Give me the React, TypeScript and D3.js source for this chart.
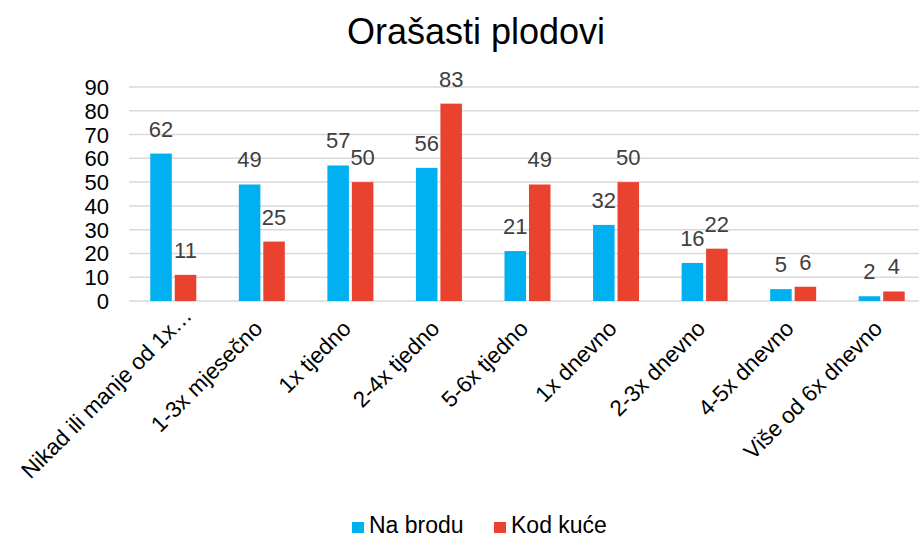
import React from "react";
import { scaleBand, scaleLinear, range } from "d3";

const categories = [
  "Nikad ili manje od 1x…",
  "1-3x mjesečno",
  "1x tjedno",
  "2-4x tjedno",
  "5-6x tjedno",
  "1x dnevno",
  "2-3x dnevno",
  "4-5x dnevno",
  "Više od 6x dnevno",
];
const naBrodu = [62, 49, 57, 56, 21, 32, 16, 5, 2];
const kodKuce = [11, 25, 50, 83, 49, 50, 22, 6, 4];
const seriesNames = ["Na brodu", "Kod kuće"];
const colors = ["#00B0F0", "#E9422F"];
const yTicks = range(0, 100, 10);

const W = 919;
const H = 540;
const font = "'Liberation Sans', Arial, sans-serif";

export default function App() {
  // plot area
  const left = 129;
  const right = 926;
  const top = 87;
  const bottom = 301;

  const x = scaleBand<string>().domain(categories).range([left, right]);
  const inner = scaleBand<number>()
    .domain([0, 1])
    .range([0, 46])
    .paddingInner(0.12);
  const y = scaleLinear().domain([0, 90]).range([bottom, top]);

  const series = [naBrodu, kodKuce];

  return (
    <svg
      width={W}
      height={H}
      viewBox={`0 0 ${W} ${H}`}
      style={{ position: "fixed", top: 0, left: 0, display: "block", overflow: "hidden" }}
      fontFamily={font}
    >
      <rect width={W} height={H} fill="#fff" />
      <text x={476} y={44} textAnchor="middle" fontSize={36} fill="#000">
        Orašasti plodovi
      </text>

      {/* grid lines and y ticks */}
      {yTicks.map((t) => (
        <g key={t}>
          <line x1={left} x2={W} y1={y(t)} y2={y(t)} stroke="#D9D9D9" strokeWidth={1.5} />
          <text x={109} y={y(t) + 8} textAnchor="end" fontSize={22} fill="#000">
            {t}
          </text>
        </g>
      ))}

      {/* bars */}
      {categories.map((c, i) => {
        const gx = x(c)! + (x.bandwidth() - 46) / 2;
        return (
          <g key={c}>
            {series.map((s, j) => {
              const bx = gx + inner(j)!;
              const v = s[i];
              return (
                <g key={j}>
                  <rect
                    x={bx}
                    y={y(v)}
                    width={inner.bandwidth()}
                    height={bottom - y(v)}
                    fill={colors[j]}
                  />
                  <text
                    x={bx + inner.bandwidth() / 2}
                    y={y(v) - 17}
                    textAnchor="middle"
                    fontSize={22}
                    fill="#404040"
                  >
                    {v}
                  </text>
                </g>
              );
            })}
          </g>
        );
      })}

      {/* category labels */}
      {categories.map((c, i) => {
        const cx = x(c)! + x.bandwidth() / 2 + (i === 0 ? 20 : 2);
        const cy = i === 0 ? 317 : 330;
        return (
          <text
            key={c}
            x={cx}
            y={cy}
            textAnchor="end"
            fontSize={22.5}
            fill="#000"
            transform={`rotate(-45 ${cx} ${cy})`}
          >
            {c}
          </text>
        );
      })}

      {/* legend */}
      {seriesNames.map((n, j) => {
        const lx = [352, 494][j];
        return (
          <g key={n}>
            <rect x={lx} y={522} width={12} height={11} fill={colors[j]} />
            <text x={lx + 17} y={533} fontSize={23} fill="#000">
              {n}
            </text>
          </g>
        );
      })}
    </svg>
  );
}
